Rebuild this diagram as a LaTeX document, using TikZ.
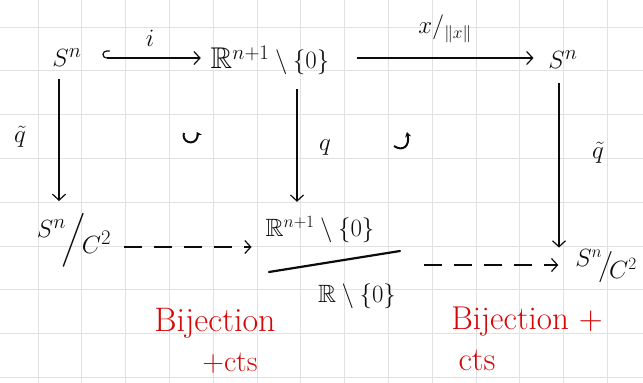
\documentclass[tikz,border=0pt]{standalone}
\usepackage{amsmath,amssymb}
\usetikzlibrary{arrows.meta}
\definecolor{gridc}{RGB}{226,226,226}
\definecolor{ink}{RGB}{12,12,12}
\definecolor{redink}{RGB}{212,8,8}
\begin{document}
\begin{tikzpicture}[x=1pt,y=-1pt,
  obj/.style={inner sep=0pt, outer sep=0pt, font=\fontsize{30}{32}\selectfont, text=ink},
  fracpart/.style={obj, font=\fontsize{25}{27}\selectfont},
  lbl/.style={inner sep=0pt, font=\fontsize{26}{28}\selectfont, text=ink},
  redtxt/.style={inner sep=0pt, font=\fontsize{34}{36}\selectfont, text=redink},
  arr/.style={draw=ink, line width=1.2pt, -{Straight Barb[length=6pt,width=13pt,line width=1.2pt]}},
  dasharr/.style={arr, dash pattern=on 18pt off 12pt},
  circarr/.style={draw=ink, line width=2pt, -{Stealth[length=5pt,width=6pt]}}]
\useasboundingbox (0,0) rectangle (643,383);
\fill[white] (0,0) rectangle (643,383);
% grid
\foreach \i in {0,...,13} \draw[gridc, line width=1pt] (38+43.8*\i,0) -- (38+43.8*\i,383);
\foreach \j in {0,...,8} \draw[gridc, line width=1pt] (0,27+43.8*\j) -- (643,27+43.8*\j);
% objects
\node[obj] (A) at (67,58) {$S^n$};
\node[obj] (B) at (270,60) {$\mathbb{R}^{n+1}\setminus\{0\}$};
\node[obj] (C) at (563,60) {$S^n$};
\node[obj] (D) at (74,240) {$\raisebox{0.3em}{$S^n$}\!\Big/\!\raisebox{-0.25em}{$C^2$}$};
\node[fracpart] (N) at (320,230) {$\mathbb{R}^{n+1}\setminus\{0\}$};
\node[fracpart] (M) at (357,296) {$\mathbb{R}\setminus\{0\}$};
\coordinate (fbL) at (269,272);
\coordinate (fbR) at (400,251);
\draw[ink, line width=2.2pt, line cap=round] (fbL) -- (fbR);
\node[obj, font=\fontsize{26}{28}\selectfont] (F) at (606,266) {$\raisebox{0.25em}{$S^n$}\!\big/\!\raisebox{-0.2em}{$C^2$}$};
% arrows
\coordinate (hk) at ([xshift=25pt]A.east |- 0,58);
\draw[arr, shorten >=10pt] (hk) -- (B.west |- 0,58);
\draw[draw=ink, line width=1.2pt, line cap=round] (hk) arc[start angle=90, end angle=270, radius=3.5] -- ++(3,0);
\draw[arr, shorten <=28pt, shorten >=15pt] (B.east |- 0,58) -- (C.west |- 0,58);
\draw[arr, shorten <=12pt, shorten >=12pt] (A.south -| 59,0) -- (D.north -| 59,0);
\draw[arr, shorten <=15pt, shorten >=15pt] (B.south -| 297,0) -- (N.north -| 297,0);
\draw[arr, shorten <=14pt, shorten >=2pt] (C.south -| 559,0) -- (F.north -| 559,0);
\draw[dasharr, shorten <=13pt, shorten >=14pt] (D.east |- 0,247) -- (N.west |- 0,247);
\draw[dasharr, shorten <=24pt, shorten >=17pt] (fbR |- 0,265) -- (F.west |- 0,265);
% labels
\node[lbl] (li) at (150,38) {$i$};
\node[lbl, font=\fontsize{24}{26}\selectfont] (lx) at (445,29) {$x/_{\|x\|}$};
\node[lbl] (lq1) at (20,137) {$\tilde{q}$};
\node[lbl] (lq2) at (325,148) {$q$};
\node[lbl] (lq3) at (598,153) {$\tilde{q}$};
% commutativity marks
\draw[circarr] (184,133) arc[start angle=200, end angle=-30, radius=7];
\draw[circarr] (394,146) .. controls (403,152) and (410,146) .. (407,132);
% red notes
\node[redtxt] (r1) at (215,323) {Bijection};
\node[redtxt, font=\fontsize{30}{32}\selectfont] (r2) at (230,363) {+cts};
\node[redtxt, font=\fontsize{33}{35}\selectfont] (r3) at (527,322) {Bijection +};
\node[redtxt, font=\fontsize{33}{35}\selectfont] (r4) at (477,360) {cts};
\end{tikzpicture}
\end{document}
